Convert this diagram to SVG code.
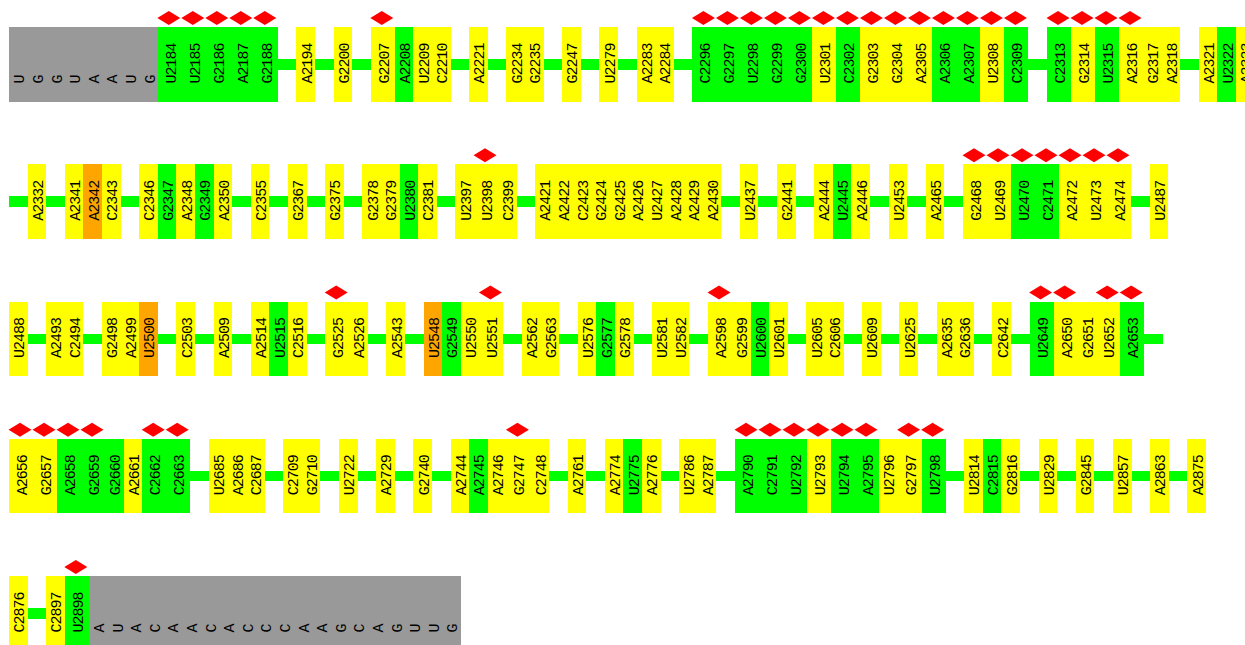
<svg xmlns="http://www.w3.org/2000/svg" xmlns:xlink="http://www.w3.org/1999/xlink" width="1245" height="645" viewBox="0 0 1245 645">
<style>
.y{fill:#ffff00}.g{fill:#00ff00}.o{fill:#ffa500}.gr{fill:#999999}.c{fill:#00ff00}
rect{shape-rendering:crispEdges}
text{font-family:"Liberation Mono",monospace;font-size:15px;letter-spacing:-1px;fill:#000}
</style>
<defs>
<polygon id="dia" points="-0.5,-9 11,-16 22.5,-9 11,-2" fill="#ff0000"/>
</defs>
<rect width="1245" height="645" fill="#ffffff"/>
<g id="connectors">
<rect class="c" x="277.8" y="59.1" width="18.6" height="10.6"/>
<rect class="c" x="315" y="59.1" width="18.6" height="10.6"/>
<rect class="c" x="352.2" y="59.1" width="18.6" height="10.6"/>
<rect class="c" x="450.6" y="59.1" width="18.6" height="10.6"/>
<rect class="c" x="487.8" y="59.1" width="18.6" height="10.6"/>
<rect class="c" x="543.6" y="59.1" width="18.6" height="10.6"/>
<rect class="c" x="580.8" y="59.1" width="18.6" height="10.6"/>
<rect class="c" x="618" y="59.1" width="18.6" height="10.6"/>
<rect class="c" x="673.8" y="59.1" width="18.6" height="10.6"/>
<rect class="c" x="1028.4" y="59.1" width="18.6" height="10.6"/>
<rect class="c" x="1180.2" y="59.1" width="18.6" height="10.6"/>

<rect class="c" x="9" y="196.35" width="18.6" height="10.6"/>
<rect class="c" x="46.2" y="196.35" width="18.6" height="10.6"/>
<rect class="c" x="120.6" y="196.35" width="18.6" height="10.6"/>
<rect class="c" x="232.2" y="196.35" width="18.6" height="10.6"/>
<rect class="c" x="269.4" y="196.35" width="18.6" height="10.6"/>
<rect class="c" x="306.6" y="196.35" width="18.6" height="10.6"/>
<rect class="c" x="343.8" y="196.35" width="18.6" height="10.6"/>
<rect class="c" x="436.8" y="196.35" width="18.6" height="10.6"/>
<rect class="c" x="516.6" y="196.35" width="18.6" height="10.6"/>
<rect class="c" x="721.2" y="196.35" width="18.6" height="10.6"/>
<rect class="c" x="758.4" y="196.35" width="18.6" height="10.6"/>
<rect class="c" x="795.6" y="196.35" width="18.6" height="10.6"/>
<rect class="c" x="870" y="196.35" width="18.6" height="10.6"/>
<rect class="c" x="907.2" y="196.35" width="18.6" height="10.6"/>
<rect class="c" x="944.4" y="196.35" width="18.6" height="10.6"/>
<rect class="c" x="1131" y="196.35" width="18.6" height="10.6"/>

<rect class="c" x="27.6" y="333.6" width="18.6" height="10.6"/>
<rect class="c" x="83.4" y="333.6" width="18.6" height="10.6"/>
<rect class="c" x="157.8" y="333.6" width="18.6" height="10.6"/>
<rect class="c" x="195" y="333.6" width="18.6" height="10.6"/>
<rect class="c" x="232.2" y="333.6" width="18.6" height="10.6"/>
<rect class="c" x="306.6" y="333.6" width="18.6" height="10.6"/>
<rect class="c" x="367.8" y="333.6" width="18.6" height="10.6"/>
<rect class="c" x="405" y="333.6" width="18.6" height="10.6"/>
<rect class="c" x="503.4" y="333.6" width="18.6" height="10.6"/>
<rect class="c" x="559.2" y="333.6" width="18.6" height="10.6"/>
<rect class="c" x="633.6" y="333.6" width="18.6" height="10.6"/>
<rect class="c" x="689.4" y="333.6" width="18.6" height="10.6"/>
<rect class="c" x="787.8" y="333.6" width="18.6" height="10.6"/>
<rect class="c" x="843.6" y="333.6" width="18.6" height="10.6"/>
<rect class="c" x="880.8" y="333.6" width="18.6" height="10.6"/>
<rect class="c" x="918" y="333.6" width="18.6" height="10.6"/>
<rect class="c" x="973.8" y="333.6" width="18.6" height="10.6"/>
<rect class="c" x="1011" y="333.6" width="18.6" height="10.6"/>
<rect class="c" x="1144.2" y="333.6" width="18.6" height="10.6"/>

<rect class="c" x="190.2" y="470.85" width="18.6" height="10.6"/>
<rect class="c" x="264.6" y="470.85" width="18.6" height="10.6"/>
<rect class="c" x="320.4" y="470.85" width="18.6" height="10.6"/>
<rect class="c" x="357.6" y="470.85" width="18.6" height="10.6"/>
<rect class="c" x="394.8" y="470.85" width="18.6" height="10.6"/>
<rect class="c" x="432" y="470.85" width="18.6" height="10.6"/>
<rect class="c" x="549" y="470.85" width="18.6" height="10.6"/>
<rect class="c" x="586.2" y="470.85" width="18.6" height="10.6"/>
<rect class="c" x="660.6" y="470.85" width="18.6" height="10.6"/>
<rect class="c" x="716.4" y="470.85" width="18.6" height="10.6"/>
<rect class="c" x="945.6" y="470.85" width="18.6" height="10.6"/>
<rect class="c" x="1020" y="470.85" width="18.6" height="10.6"/>
<rect class="c" x="1057.2" y="470.85" width="18.6" height="10.6"/>
<rect class="c" x="1094.4" y="470.85" width="18.6" height="10.6"/>
<rect class="c" x="1131.6" y="470.85" width="18.6" height="10.6"/>
<rect class="c" x="1168.8" y="470.85" width="18.6" height="10.6"/>

<rect class="c" x="27.6" y="608.1" width="18.6" height="10.6"/>
</g>

<!-- Row 1 -->
<g id="seq-start" transform="translate(9,27)"><rect class="gr" width="148.8" height="74.7"/>
<text transform="rotate(-90)" x="-56.5" y="15.3">U</text><text transform="rotate(-90)" x="-56.5" y="33.9">G</text><text transform="rotate(-90)" x="-56.5" y="52.5">G</text><text transform="rotate(-90)" x="-56.5" y="71.1">U</text><text transform="rotate(-90)" x="-56.5" y="89.7">A</text><text transform="rotate(-90)" x="-56.5" y="108.3">A</text><text transform="rotate(-90)" x="-56.5" y="126.9">U</text><text transform="rotate(-90)" x="-56.5" y="145.5">G</text></g>
<g id="n-U2184" transform="translate(157.8,27)"><rect class="g" width="24" height="74.7"/><use href="#dia"/><text transform="rotate(-90)" x="-56.5" y="18">U2184</text></g>
<g id="n-U2185" transform="translate(181.8,27)"><rect class="g" width="24" height="74.7"/><use href="#dia"/><text transform="rotate(-90)" x="-56.5" y="18">U2185</text></g>
<g id="n-G2186" transform="translate(205.8,27)"><rect class="g" width="24" height="74.7"/><use href="#dia"/><text transform="rotate(-90)" x="-56.5" y="18">G2186</text></g>
<g id="n-A2187" transform="translate(229.8,27)"><rect class="g" width="24" height="74.7"/><use href="#dia"/><text transform="rotate(-90)" x="-56.5" y="18">A2187</text></g>
<g id="n-G2188" transform="translate(253.8,27)"><rect class="g" width="24" height="74.7"/><use href="#dia"/><text transform="rotate(-90)" x="-56.5" y="18">G2188</text></g>
<g id="n-A2194" transform="translate(296.4,27)"><rect class="y" width="18.6" height="74.7"/><text transform="rotate(-90)" x="-56.5" y="15.3">A2194</text></g>
<g id="n-G2200" transform="translate(333.6,27)"><rect class="y" width="18.6" height="74.7"/><text transform="rotate(-90)" x="-56.5" y="15.3">G2200</text></g>
<g id="n-G2207" transform="translate(370.8,27)"><rect class="y" width="24" height="74.7"/><use href="#dia"/><text transform="rotate(-90)" x="-56.5" y="18">G2207</text></g>
<g id="n-A2208" transform="translate(394.8,27)"><rect class="g" width="18.6" height="74.7"/><text transform="rotate(-90)" x="-56.5" y="15.3">A2208</text></g>
<g id="n-U2209" transform="translate(413.4,27)"><rect class="y" width="18.6" height="74.7"/><text transform="rotate(-90)" x="-56.5" y="15.3">U2209</text></g>
<g id="n-C2210" transform="translate(432,27)"><rect class="y" width="18.6" height="74.7"/><text transform="rotate(-90)" x="-56.5" y="15.3">C2210</text></g>
<g id="n-A2221" transform="translate(469.2,27)"><rect class="y" width="18.6" height="74.7"/><text transform="rotate(-90)" x="-56.5" y="15.3">A2221</text></g>
<g id="n-G2234" transform="translate(506.4,27)"><rect class="y" width="18.6" height="74.7"/><text transform="rotate(-90)" x="-56.5" y="15.3">G2234</text></g>
<g id="n-G2235" transform="translate(525,27)"><rect class="y" width="18.6" height="74.7"/><text transform="rotate(-90)" x="-56.5" y="15.3">G2235</text></g>
<g id="n-G2247" transform="translate(562.2,27)"><rect class="y" width="18.6" height="74.7"/><text transform="rotate(-90)" x="-56.5" y="15.3">G2247</text></g>
<g id="n-U2279" transform="translate(599.4,27)"><rect class="y" width="18.6" height="74.7"/><text transform="rotate(-90)" x="-56.5" y="15.3">U2279</text></g>
<g id="n-A2283" transform="translate(636.6,27)"><rect class="y" width="18.6" height="74.7"/><text transform="rotate(-90)" x="-56.5" y="15.3">A2283</text></g>
<g id="n-A2284" transform="translate(655.2,27)"><rect class="y" width="18.6" height="74.7"/><text transform="rotate(-90)" x="-56.5" y="15.3">A2284</text></g>
<g id="n-C2296" transform="translate(692.4,27)"><rect class="g" width="24" height="74.7"/><use href="#dia"/><text transform="rotate(-90)" x="-56.5" y="18">C2296</text></g>
<g id="n-G2297" transform="translate(716.4,27)"><rect class="g" width="24" height="74.7"/><use href="#dia"/><text transform="rotate(-90)" x="-56.5" y="18">G2297</text></g>
<g id="n-U2298" transform="translate(740.4,27)"><rect class="g" width="24" height="74.7"/><use href="#dia"/><text transform="rotate(-90)" x="-56.5" y="18">U2298</text></g>
<g id="n-G2299" transform="translate(764.4,27)"><rect class="g" width="24" height="74.7"/><use href="#dia"/><text transform="rotate(-90)" x="-56.5" y="18">G2299</text></g>
<g id="n-G2300" transform="translate(788.4,27)"><rect class="g" width="24" height="74.7"/><use href="#dia"/><text transform="rotate(-90)" x="-56.5" y="18">G2300</text></g>
<g id="n-U2301" transform="translate(812.4,27)"><rect class="y" width="24" height="74.7"/><use href="#dia"/><text transform="rotate(-90)" x="-56.5" y="18">U2301</text></g>
<g id="n-C2302" transform="translate(836.4,27)"><rect class="g" width="24" height="74.7"/><use href="#dia"/><text transform="rotate(-90)" x="-56.5" y="18">C2302</text></g>
<g id="n-G2303" transform="translate(860.4,27)"><rect class="y" width="24" height="74.7"/><use href="#dia"/><text transform="rotate(-90)" x="-56.5" y="18">G2303</text></g>
<g id="n-G2304" transform="translate(884.4,27)"><rect class="y" width="24" height="74.7"/><use href="#dia"/><text transform="rotate(-90)" x="-56.5" y="18">G2304</text></g>
<g id="n-A2305" transform="translate(908.4,27)"><rect class="y" width="24" height="74.7"/><use href="#dia"/><text transform="rotate(-90)" x="-56.5" y="18">A2305</text></g>
<g id="n-A2306" transform="translate(932.4,27)"><rect class="g" width="24" height="74.7"/><use href="#dia"/><text transform="rotate(-90)" x="-56.5" y="18">A2306</text></g>
<g id="n-A2307" transform="translate(956.4,27)"><rect class="g" width="24" height="74.7"/><use href="#dia"/><text transform="rotate(-90)" x="-56.5" y="18">A2307</text></g>
<g id="n-U2308" transform="translate(980.4,27)"><rect class="y" width="24" height="74.7"/><use href="#dia"/><text transform="rotate(-90)" x="-56.5" y="18">U2308</text></g>
<g id="n-C2309" transform="translate(1004.4,27)"><rect class="g" width="24" height="74.7"/><use href="#dia"/><text transform="rotate(-90)" x="-56.5" y="18">C2309</text></g>
<g id="n-C2313" transform="translate(1047,27)"><rect class="g" width="24" height="74.7"/><use href="#dia"/><text transform="rotate(-90)" x="-56.5" y="18">C2313</text></g>
<g id="n-G2314" transform="translate(1071,27)"><rect class="y" width="24" height="74.7"/><use href="#dia"/><text transform="rotate(-90)" x="-56.5" y="18">G2314</text></g>
<g id="n-U2315" transform="translate(1095,27)"><rect class="g" width="24" height="74.7"/><use href="#dia"/><text transform="rotate(-90)" x="-56.5" y="18">U2315</text></g>
<g id="n-A2316" transform="translate(1119,27)"><rect class="y" width="24" height="74.7"/><use href="#dia"/><text transform="rotate(-90)" x="-56.5" y="18">A2316</text></g>
<g id="n-G2317" transform="translate(1143,27)"><rect class="y" width="18.6" height="74.7"/><text transform="rotate(-90)" x="-56.5" y="15.3">G2317</text></g>
<g id="n-A2318" transform="translate(1161.6,27)"><rect class="y" width="18.6" height="74.7"/><text transform="rotate(-90)" x="-56.5" y="15.3">A2318</text></g>
<g id="n-A2321" transform="translate(1198.8,27)"><rect class="y" width="18.6" height="74.7"/><text transform="rotate(-90)" x="-56.5" y="15.3">A2321</text></g>
<g id="n-U2322" transform="translate(1217.4,27)"><rect class="g" width="18.6" height="74.7"/><text transform="rotate(-90)" x="-56.5" y="15.3">U2322</text></g>
<g id="n-A2323" transform="translate(1236,27)"><rect class="y" width="18.6" height="74.7"/><text transform="rotate(-90)" x="-56.5" y="15.3">A2323</text></g>

<!-- Row 2 -->
<g id="n-A2332" transform="translate(27.6,164.25)"><rect class="y" width="18.6" height="74.7"/><text transform="rotate(-90)" x="-56.5" y="15.3">A2332</text></g>
<g id="n-A2341" transform="translate(64.8,164.25)"><rect class="y" width="18.6" height="74.7"/><text transform="rotate(-90)" x="-56.5" y="15.3">A2341</text></g>
<g id="n-A2342" transform="translate(83.4,164.25)"><rect class="o" width="18.6" height="74.7"/><text transform="rotate(-90)" x="-56.5" y="15.3">A2342</text></g>
<g id="n-C2343" transform="translate(102,164.25)"><rect class="y" width="18.6" height="74.7"/><text transform="rotate(-90)" x="-56.5" y="15.3">C2343</text></g>
<g id="n-C2346" transform="translate(139.2,164.25)"><rect class="y" width="18.6" height="74.7"/><text transform="rotate(-90)" x="-56.5" y="15.3">C2346</text></g>
<g id="n-G2347" transform="translate(157.8,164.25)"><rect class="g" width="18.6" height="74.7"/><text transform="rotate(-90)" x="-56.5" y="15.3">G2347</text></g>
<g id="n-A2348" transform="translate(176.4,164.25)"><rect class="y" width="18.6" height="74.7"/><text transform="rotate(-90)" x="-56.5" y="15.3">A2348</text></g>
<g id="n-G2349" transform="translate(195,164.25)"><rect class="g" width="18.6" height="74.7"/><text transform="rotate(-90)" x="-56.5" y="15.3">G2349</text></g>
<g id="n-A2350" transform="translate(213.6,164.25)"><rect class="y" width="18.6" height="74.7"/><text transform="rotate(-90)" x="-56.5" y="15.3">A2350</text></g>
<g id="n-C2355" transform="translate(250.8,164.25)"><rect class="y" width="18.6" height="74.7"/><text transform="rotate(-90)" x="-56.5" y="15.3">C2355</text></g>
<g id="n-G2367" transform="translate(288,164.25)"><rect class="y" width="18.6" height="74.7"/><text transform="rotate(-90)" x="-56.5" y="15.3">G2367</text></g>
<g id="n-G2375" transform="translate(325.2,164.25)"><rect class="y" width="18.6" height="74.7"/><text transform="rotate(-90)" x="-56.5" y="15.3">G2375</text></g>
<g id="n-G2378" transform="translate(362.4,164.25)"><rect class="y" width="18.6" height="74.7"/><text transform="rotate(-90)" x="-56.5" y="15.3">G2378</text></g>
<g id="n-G2379" transform="translate(381,164.25)"><rect class="y" width="18.6" height="74.7"/><text transform="rotate(-90)" x="-56.5" y="15.3">G2379</text></g>
<g id="n-U2380" transform="translate(399.6,164.25)"><rect class="g" width="18.6" height="74.7"/><text transform="rotate(-90)" x="-56.5" y="15.3">U2380</text></g>
<g id="n-C2381" transform="translate(418.2,164.25)"><rect class="y" width="18.6" height="74.7"/><text transform="rotate(-90)" x="-56.5" y="15.3">C2381</text></g>
<g id="n-U2397" transform="translate(455.4,164.25)"><rect class="y" width="18.6" height="74.7"/><text transform="rotate(-90)" x="-56.5" y="15.3">U2397</text></g>
<g id="n-U2398" transform="translate(474,164.25)"><rect class="y" width="24" height="74.7"/><use href="#dia"/><text transform="rotate(-90)" x="-56.5" y="18">U2398</text></g>
<g id="n-C2399" transform="translate(498,164.25)"><rect class="y" width="18.6" height="74.7"/><text transform="rotate(-90)" x="-56.5" y="15.3">C2399</text></g>
<g id="n-A2421" transform="translate(535.2,164.25)"><rect class="y" width="18.6" height="74.7"/><text transform="rotate(-90)" x="-56.5" y="15.3">A2421</text></g>
<g id="n-A2422" transform="translate(553.8,164.25)"><rect class="y" width="18.6" height="74.7"/><text transform="rotate(-90)" x="-56.5" y="15.3">A2422</text></g>
<g id="n-C2423" transform="translate(572.4,164.25)"><rect class="y" width="18.6" height="74.7"/><text transform="rotate(-90)" x="-56.5" y="15.3">C2423</text></g>
<g id="n-G2424" transform="translate(591,164.25)"><rect class="y" width="18.6" height="74.7"/><text transform="rotate(-90)" x="-56.5" y="15.3">G2424</text></g>
<g id="n-G2425" transform="translate(609.6,164.25)"><rect class="y" width="18.6" height="74.7"/><text transform="rotate(-90)" x="-56.5" y="15.3">G2425</text></g>
<g id="n-A2426" transform="translate(628.2,164.25)"><rect class="y" width="18.6" height="74.7"/><text transform="rotate(-90)" x="-56.5" y="15.3">A2426</text></g>
<g id="n-U2427" transform="translate(646.8,164.25)"><rect class="y" width="18.6" height="74.7"/><text transform="rotate(-90)" x="-56.5" y="15.3">U2427</text></g>
<g id="n-A2428" transform="translate(665.4,164.25)"><rect class="y" width="18.6" height="74.7"/><text transform="rotate(-90)" x="-56.5" y="15.3">A2428</text></g>
<g id="n-A2429" transform="translate(684,164.25)"><rect class="y" width="18.6" height="74.7"/><text transform="rotate(-90)" x="-56.5" y="15.3">A2429</text></g>
<g id="n-A2430" transform="translate(702.6,164.25)"><rect class="y" width="18.6" height="74.7"/><text transform="rotate(-90)" x="-56.5" y="15.3">A2430</text></g>
<g id="n-U2437" transform="translate(739.8,164.25)"><rect class="y" width="18.6" height="74.7"/><text transform="rotate(-90)" x="-56.5" y="15.3">U2437</text></g>
<g id="n-G2441" transform="translate(777,164.25)"><rect class="y" width="18.6" height="74.7"/><text transform="rotate(-90)" x="-56.5" y="15.3">G2441</text></g>
<g id="n-A2444" transform="translate(814.2,164.25)"><rect class="y" width="18.6" height="74.7"/><text transform="rotate(-90)" x="-56.5" y="15.3">A2444</text></g>
<g id="n-U2445" transform="translate(832.8,164.25)"><rect class="g" width="18.6" height="74.7"/><text transform="rotate(-90)" x="-56.5" y="15.3">U2445</text></g>
<g id="n-A2446" transform="translate(851.4,164.25)"><rect class="y" width="18.6" height="74.7"/><text transform="rotate(-90)" x="-56.5" y="15.3">A2446</text></g>
<g id="n-U2453" transform="translate(888.6,164.25)"><rect class="y" width="18.6" height="74.7"/><text transform="rotate(-90)" x="-56.5" y="15.3">U2453</text></g>
<g id="n-A2465" transform="translate(925.8,164.25)"><rect class="y" width="18.6" height="74.7"/><text transform="rotate(-90)" x="-56.5" y="15.3">A2465</text></g>
<g id="n-G2468" transform="translate(963,164.25)"><rect class="y" width="24" height="74.7"/><use href="#dia"/><text transform="rotate(-90)" x="-56.5" y="18">G2468</text></g>
<g id="n-U2469" transform="translate(987,164.25)"><rect class="y" width="24" height="74.7"/><use href="#dia"/><text transform="rotate(-90)" x="-56.5" y="18">U2469</text></g>
<g id="n-U2470" transform="translate(1011,164.25)"><rect class="g" width="24" height="74.7"/><use href="#dia"/><text transform="rotate(-90)" x="-56.5" y="18">U2470</text></g>
<g id="n-C2471" transform="translate(1035,164.25)"><rect class="g" width="24" height="74.7"/><use href="#dia"/><text transform="rotate(-90)" x="-56.5" y="18">C2471</text></g>
<g id="n-A2472" transform="translate(1059,164.25)"><rect class="y" width="24" height="74.7"/><use href="#dia"/><text transform="rotate(-90)" x="-56.5" y="18">A2472</text></g>
<g id="n-U2473" transform="translate(1083,164.25)"><rect class="y" width="24" height="74.7"/><use href="#dia"/><text transform="rotate(-90)" x="-56.5" y="18">U2473</text></g>
<g id="n-A2474" transform="translate(1107,164.25)"><rect class="y" width="24" height="74.7"/><use href="#dia"/><text transform="rotate(-90)" x="-56.5" y="18">A2474</text></g>
<g id="n-U2487" transform="translate(1149.6,164.25)"><rect class="y" width="18.6" height="74.7"/><text transform="rotate(-90)" x="-56.5" y="15.3">U2487</text></g>

<!-- Row 3 -->
<g id="n-U2488" transform="translate(9,301.5)"><rect class="y" width="18.6" height="74.7"/><text transform="rotate(-90)" x="-56.5" y="15.3">U2488</text></g>
<g id="n-A2493" transform="translate(46.2,301.5)"><rect class="y" width="18.6" height="74.7"/><text transform="rotate(-90)" x="-56.5" y="15.3">A2493</text></g>
<g id="n-C2494" transform="translate(64.8,301.5)"><rect class="y" width="18.6" height="74.7"/><text transform="rotate(-90)" x="-56.5" y="15.3">C2494</text></g>
<g id="n-G2498" transform="translate(102,301.5)"><rect class="y" width="18.6" height="74.7"/><text transform="rotate(-90)" x="-56.5" y="15.3">G2498</text></g>
<g id="n-A2499" transform="translate(120.6,301.5)"><rect class="y" width="18.6" height="74.7"/><text transform="rotate(-90)" x="-56.5" y="15.3">A2499</text></g>
<g id="n-U2500" transform="translate(139.2,301.5)"><rect class="o" width="18.6" height="74.7"/><text transform="rotate(-90)" x="-56.5" y="15.3">U2500</text></g>
<g id="n-C2503" transform="translate(176.4,301.5)"><rect class="y" width="18.6" height="74.7"/><text transform="rotate(-90)" x="-56.5" y="15.3">C2503</text></g>
<g id="n-A2509" transform="translate(213.6,301.5)"><rect class="y" width="18.6" height="74.7"/><text transform="rotate(-90)" x="-56.5" y="15.3">A2509</text></g>
<g id="n-A2514" transform="translate(250.8,301.5)"><rect class="y" width="18.6" height="74.7"/><text transform="rotate(-90)" x="-56.5" y="15.3">A2514</text></g>
<g id="n-U2515" transform="translate(269.4,301.5)"><rect class="g" width="18.6" height="74.7"/><text transform="rotate(-90)" x="-56.5" y="15.3">U2515</text></g>
<g id="n-C2516" transform="translate(288,301.5)"><rect class="y" width="18.6" height="74.7"/><text transform="rotate(-90)" x="-56.5" y="15.3">C2516</text></g>
<g id="n-G2525" transform="translate(325.2,301.5)"><rect class="y" width="24" height="74.7"/><use href="#dia"/><text transform="rotate(-90)" x="-56.5" y="18">G2525</text></g>
<g id="n-A2526" transform="translate(349.2,301.5)"><rect class="y" width="18.6" height="74.7"/><text transform="rotate(-90)" x="-56.5" y="15.3">A2526</text></g>
<g id="n-A2543" transform="translate(386.4,301.5)"><rect class="y" width="18.6" height="74.7"/><text transform="rotate(-90)" x="-56.5" y="15.3">A2543</text></g>
<g id="n-U2548" transform="translate(423.6,301.5)"><rect class="o" width="18.6" height="74.7"/><text transform="rotate(-90)" x="-56.5" y="15.3">U2548</text></g>
<g id="n-G2549" transform="translate(442.2,301.5)"><rect class="g" width="18.6" height="74.7"/><text transform="rotate(-90)" x="-56.5" y="15.3">G2549</text></g>
<g id="n-U2550" transform="translate(460.8,301.5)"><rect class="y" width="18.6" height="74.7"/><text transform="rotate(-90)" x="-56.5" y="15.3">U2550</text></g>
<g id="n-U2551" transform="translate(479.4,301.5)"><rect class="y" width="24" height="74.7"/><use href="#dia"/><text transform="rotate(-90)" x="-56.5" y="18">U2551</text></g>
<g id="n-A2562" transform="translate(522,301.5)"><rect class="y" width="18.6" height="74.7"/><text transform="rotate(-90)" x="-56.5" y="15.3">A2562</text></g>
<g id="n-G2563" transform="translate(540.6,301.5)"><rect class="y" width="18.6" height="74.7"/><text transform="rotate(-90)" x="-56.5" y="15.3">G2563</text></g>
<g id="n-U2576" transform="translate(577.8,301.5)"><rect class="y" width="18.6" height="74.7"/><text transform="rotate(-90)" x="-56.5" y="15.3">U2576</text></g>
<g id="n-G2577" transform="translate(596.4,301.5)"><rect class="g" width="18.6" height="74.7"/><text transform="rotate(-90)" x="-56.5" y="15.3">G2577</text></g>
<g id="n-G2578" transform="translate(615,301.5)"><rect class="y" width="18.6" height="74.7"/><text transform="rotate(-90)" x="-56.5" y="15.3">G2578</text></g>
<g id="n-U2581" transform="translate(652.2,301.5)"><rect class="y" width="18.6" height="74.7"/><text transform="rotate(-90)" x="-56.5" y="15.3">U2581</text></g>
<g id="n-U2582" transform="translate(670.8,301.5)"><rect class="y" width="18.6" height="74.7"/><text transform="rotate(-90)" x="-56.5" y="15.3">U2582</text></g>
<g id="n-A2598" transform="translate(708,301.5)"><rect class="y" width="24" height="74.7"/><use href="#dia"/><text transform="rotate(-90)" x="-56.5" y="18">A2598</text></g>
<g id="n-G2599" transform="translate(732,301.5)"><rect class="y" width="18.6" height="74.7"/><text transform="rotate(-90)" x="-56.5" y="15.3">G2599</text></g>
<g id="n-U2600" transform="translate(750.6,301.5)"><rect class="g" width="18.6" height="74.7"/><text transform="rotate(-90)" x="-56.5" y="15.3">U2600</text></g>
<g id="n-U2601" transform="translate(769.2,301.5)"><rect class="y" width="18.6" height="74.7"/><text transform="rotate(-90)" x="-56.5" y="15.3">U2601</text></g>
<g id="n-U2605" transform="translate(806.4,301.5)"><rect class="y" width="18.6" height="74.7"/><text transform="rotate(-90)" x="-56.5" y="15.3">U2605</text></g>
<g id="n-C2606" transform="translate(825,301.5)"><rect class="y" width="18.6" height="74.7"/><text transform="rotate(-90)" x="-56.5" y="15.3">C2606</text></g>
<g id="n-U2609" transform="translate(862.2,301.5)"><rect class="y" width="18.6" height="74.7"/><text transform="rotate(-90)" x="-56.5" y="15.3">U2609</text></g>
<g id="n-U2625" transform="translate(899.4,301.5)"><rect class="y" width="18.6" height="74.7"/><text transform="rotate(-90)" x="-56.5" y="15.3">U2625</text></g>
<g id="n-A2635" transform="translate(936.6,301.5)"><rect class="y" width="18.6" height="74.7"/><text transform="rotate(-90)" x="-56.5" y="15.3">A2635</text></g>
<g id="n-G2636" transform="translate(955.2,301.5)"><rect class="y" width="18.6" height="74.7"/><text transform="rotate(-90)" x="-56.5" y="15.3">G2636</text></g>
<g id="n-C2642" transform="translate(992.4,301.5)"><rect class="y" width="18.6" height="74.7"/><text transform="rotate(-90)" x="-56.5" y="15.3">C2642</text></g>
<g id="n-U2649" transform="translate(1029.6,301.5)"><rect class="g" width="24" height="74.7"/><use href="#dia"/><text transform="rotate(-90)" x="-56.5" y="18">U2649</text></g>
<g id="n-A2650" transform="translate(1053.6,301.5)"><rect class="y" width="24" height="74.7"/><use href="#dia"/><text transform="rotate(-90)" x="-56.5" y="18">A2650</text></g>
<g id="n-G2651" transform="translate(1077.6,301.5)"><rect class="y" width="18.6" height="74.7"/><text transform="rotate(-90)" x="-56.5" y="15.3">G2651</text></g>
<g id="n-U2652" transform="translate(1096.2,301.5)"><rect class="y" width="24" height="74.7"/><use href="#dia"/><text transform="rotate(-90)" x="-56.5" y="18">U2652</text></g>
<g id="n-A2653" transform="translate(1120.2,301.5)"><rect class="g" width="24" height="74.7"/><use href="#dia"/><text transform="rotate(-90)" x="-56.5" y="18">A2653</text></g>

<!-- Row 4 -->
<g id="n-A2656" transform="translate(9,438.75)"><rect class="y" width="24" height="74.7"/><use href="#dia"/><text transform="rotate(-90)" x="-56.5" y="18">A2656</text></g>
<g id="n-G2657" transform="translate(33,438.75)"><rect class="y" width="24" height="74.7"/><use href="#dia"/><text transform="rotate(-90)" x="-56.5" y="18">G2657</text></g>
<g id="n-A2658" transform="translate(57,438.75)"><rect class="g" width="24" height="74.7"/><use href="#dia"/><text transform="rotate(-90)" x="-56.5" y="18">A2658</text></g>
<g id="n-G2659" transform="translate(81,438.75)"><rect class="g" width="24" height="74.7"/><use href="#dia"/><text transform="rotate(-90)" x="-56.5" y="18">G2659</text></g>
<g id="n-G2660" transform="translate(105,438.75)"><rect class="g" width="18.6" height="74.7"/><text transform="rotate(-90)" x="-56.5" y="15.3">G2660</text></g>
<g id="n-A2661" transform="translate(123.6,438.75)"><rect class="y" width="18.6" height="74.7"/><text transform="rotate(-90)" x="-56.5" y="15.3">A2661</text></g>
<g id="n-C2662" transform="translate(142.2,438.75)"><rect class="g" width="24" height="74.7"/><use href="#dia"/><text transform="rotate(-90)" x="-56.5" y="18">C2662</text></g>
<g id="n-C2663" transform="translate(166.2,438.75)"><rect class="g" width="24" height="74.7"/><use href="#dia"/><text transform="rotate(-90)" x="-56.5" y="18">C2663</text></g>
<g id="n-U2685" transform="translate(208.8,438.75)"><rect class="y" width="18.6" height="74.7"/><text transform="rotate(-90)" x="-56.5" y="15.3">U2685</text></g>
<g id="n-A2686" transform="translate(227.4,438.75)"><rect class="y" width="18.6" height="74.7"/><text transform="rotate(-90)" x="-56.5" y="15.3">A2686</text></g>
<g id="n-C2687" transform="translate(246,438.75)"><rect class="y" width="18.6" height="74.7"/><text transform="rotate(-90)" x="-56.5" y="15.3">C2687</text></g>
<g id="n-C2709" transform="translate(283.2,438.75)"><rect class="y" width="18.6" height="74.7"/><text transform="rotate(-90)" x="-56.5" y="15.3">C2709</text></g>
<g id="n-G2710" transform="translate(301.8,438.75)"><rect class="y" width="18.6" height="74.7"/><text transform="rotate(-90)" x="-56.5" y="15.3">G2710</text></g>
<g id="n-U2722" transform="translate(339,438.75)"><rect class="y" width="18.6" height="74.7"/><text transform="rotate(-90)" x="-56.5" y="15.3">U2722</text></g>
<g id="n-A2729" transform="translate(376.2,438.75)"><rect class="y" width="18.6" height="74.7"/><text transform="rotate(-90)" x="-56.5" y="15.3">A2729</text></g>
<g id="n-G2740" transform="translate(413.4,438.75)"><rect class="y" width="18.6" height="74.7"/><text transform="rotate(-90)" x="-56.5" y="15.3">G2740</text></g>
<g id="n-A2744" transform="translate(450.6,438.75)"><rect class="y" width="18.6" height="74.7"/><text transform="rotate(-90)" x="-56.5" y="15.3">A2744</text></g>
<g id="n-A2745" transform="translate(469.2,438.75)"><rect class="g" width="18.6" height="74.7"/><text transform="rotate(-90)" x="-56.5" y="15.3">A2745</text></g>
<g id="n-A2746" transform="translate(487.8,438.75)"><rect class="y" width="18.6" height="74.7"/><text transform="rotate(-90)" x="-56.5" y="15.3">A2746</text></g>
<g id="n-G2747" transform="translate(506.4,438.75)"><rect class="y" width="24" height="74.7"/><use href="#dia"/><text transform="rotate(-90)" x="-56.5" y="18">G2747</text></g>
<g id="n-C2748" transform="translate(530.4,438.75)"><rect class="y" width="18.6" height="74.7"/><text transform="rotate(-90)" x="-56.5" y="15.3">C2748</text></g>
<g id="n-A2761" transform="translate(567.6,438.75)"><rect class="y" width="18.6" height="74.7"/><text transform="rotate(-90)" x="-56.5" y="15.3">A2761</text></g>
<g id="n-A2774" transform="translate(604.8,438.75)"><rect class="y" width="18.6" height="74.7"/><text transform="rotate(-90)" x="-56.5" y="15.3">A2774</text></g>
<g id="n-U2775" transform="translate(623.4,438.75)"><rect class="g" width="18.6" height="74.7"/><text transform="rotate(-90)" x="-56.5" y="15.3">U2775</text></g>
<g id="n-A2776" transform="translate(642,438.75)"><rect class="y" width="18.6" height="74.7"/><text transform="rotate(-90)" x="-56.5" y="15.3">A2776</text></g>
<g id="n-U2786" transform="translate(679.2,438.75)"><rect class="y" width="18.6" height="74.7"/><text transform="rotate(-90)" x="-56.5" y="15.3">U2786</text></g>
<g id="n-A2787" transform="translate(697.8,438.75)"><rect class="y" width="18.6" height="74.7"/><text transform="rotate(-90)" x="-56.5" y="15.3">A2787</text></g>
<g id="n-A2790" transform="translate(735,438.75)"><rect class="g" width="24" height="74.7"/><use href="#dia"/><text transform="rotate(-90)" x="-56.5" y="18">A2790</text></g>
<g id="n-C2791" transform="translate(759,438.75)"><rect class="g" width="24" height="74.7"/><use href="#dia"/><text transform="rotate(-90)" x="-56.5" y="18">C2791</text></g>
<g id="n-U2792" transform="translate(783,438.75)"><rect class="g" width="24" height="74.7"/><use href="#dia"/><text transform="rotate(-90)" x="-56.5" y="18">U2792</text></g>
<g id="n-U2793" transform="translate(807,438.75)"><rect class="y" width="24" height="74.7"/><use href="#dia"/><text transform="rotate(-90)" x="-56.5" y="18">U2793</text></g>
<g id="n-U2794" transform="translate(831,438.75)"><rect class="g" width="24" height="74.7"/><use href="#dia"/><text transform="rotate(-90)" x="-56.5" y="18">U2794</text></g>
<g id="n-A2795" transform="translate(855,438.75)"><rect class="g" width="24" height="74.7"/><use href="#dia"/><text transform="rotate(-90)" x="-56.5" y="18">A2795</text></g>
<g id="n-U2796" transform="translate(879,438.75)"><rect class="y" width="18.6" height="74.7"/><text transform="rotate(-90)" x="-56.5" y="15.3">U2796</text></g>
<g id="n-G2797" transform="translate(897.6,438.75)"><rect class="y" width="24" height="74.7"/><use href="#dia"/><text transform="rotate(-90)" x="-56.5" y="18">G2797</text></g>
<g id="n-U2798" transform="translate(921.6,438.75)"><rect class="g" width="24" height="74.7"/><use href="#dia"/><text transform="rotate(-90)" x="-56.5" y="18">U2798</text></g>
<g id="n-U2814" transform="translate(964.2,438.75)"><rect class="y" width="18.6" height="74.7"/><text transform="rotate(-90)" x="-56.5" y="15.3">U2814</text></g>
<g id="n-C2815" transform="translate(982.8,438.75)"><rect class="g" width="18.6" height="74.7"/><text transform="rotate(-90)" x="-56.5" y="15.3">C2815</text></g>
<g id="n-G2816" transform="translate(1001.4,438.75)"><rect class="y" width="18.6" height="74.7"/><text transform="rotate(-90)" x="-56.5" y="15.3">G2816</text></g>
<g id="n-U2829" transform="translate(1038.6,438.75)"><rect class="y" width="18.6" height="74.7"/><text transform="rotate(-90)" x="-56.5" y="15.3">U2829</text></g>
<g id="n-G2845" transform="translate(1075.8,438.75)"><rect class="y" width="18.6" height="74.7"/><text transform="rotate(-90)" x="-56.5" y="15.3">G2845</text></g>
<g id="n-U2857" transform="translate(1113,438.75)"><rect class="y" width="18.6" height="74.7"/><text transform="rotate(-90)" x="-56.5" y="15.3">U2857</text></g>
<g id="n-A2863" transform="translate(1150.2,438.75)"><rect class="y" width="18.6" height="74.7"/><text transform="rotate(-90)" x="-56.5" y="15.3">A2863</text></g>
<g id="n-A2875" transform="translate(1187.4,438.75)"><rect class="y" width="18.6" height="74.7"/><text transform="rotate(-90)" x="-56.5" y="15.3">A2875</text></g>

<!-- Row 5 -->
<g id="n-C2876" transform="translate(9,576)"><rect class="y" width="18.6" height="74.7"/><text transform="rotate(-90)" x="-56.5" y="15.3">C2876</text></g>
<g id="n-C2897" transform="translate(46.2,576)"><rect class="y" width="18.6" height="74.7"/><text transform="rotate(-90)" x="-56.5" y="15.3">C2897</text></g>
<g id="n-U2898" transform="translate(64.8,576)"><rect class="g" width="24" height="74.7"/><use href="#dia"/><text transform="rotate(-90)" x="-56.5" y="18">U2898</text></g>
<g id="seq-end" transform="translate(88.8,576)"><rect class="gr" width="372" height="74.7"/>
<text transform="rotate(-90)" x="-56.5" y="15.3">A</text><text transform="rotate(-90)" x="-56.5" y="33.9">U</text><text transform="rotate(-90)" x="-56.5" y="52.5">A</text><text transform="rotate(-90)" x="-56.5" y="71.1">C</text><text transform="rotate(-90)" x="-56.5" y="89.7">A</text><text transform="rotate(-90)" x="-56.5" y="108.3">A</text><text transform="rotate(-90)" x="-56.5" y="126.9">C</text><text transform="rotate(-90)" x="-56.5" y="145.5">A</text><text transform="rotate(-90)" x="-56.5" y="164.1">C</text><text transform="rotate(-90)" x="-56.5" y="182.7">C</text><text transform="rotate(-90)" x="-56.5" y="201.3">C</text><text transform="rotate(-90)" x="-56.5" y="219.9">A</text><text transform="rotate(-90)" x="-56.5" y="238.5">A</text><text transform="rotate(-90)" x="-56.5" y="257.1">G</text><text transform="rotate(-90)" x="-56.5" y="275.7">C</text><text transform="rotate(-90)" x="-56.5" y="294.3">A</text><text transform="rotate(-90)" x="-56.5" y="312.9">G</text><text transform="rotate(-90)" x="-56.5" y="331.5">U</text><text transform="rotate(-90)" x="-56.5" y="350.1">U</text><text transform="rotate(-90)" x="-56.5" y="368.7">G</text></g>
</svg>
